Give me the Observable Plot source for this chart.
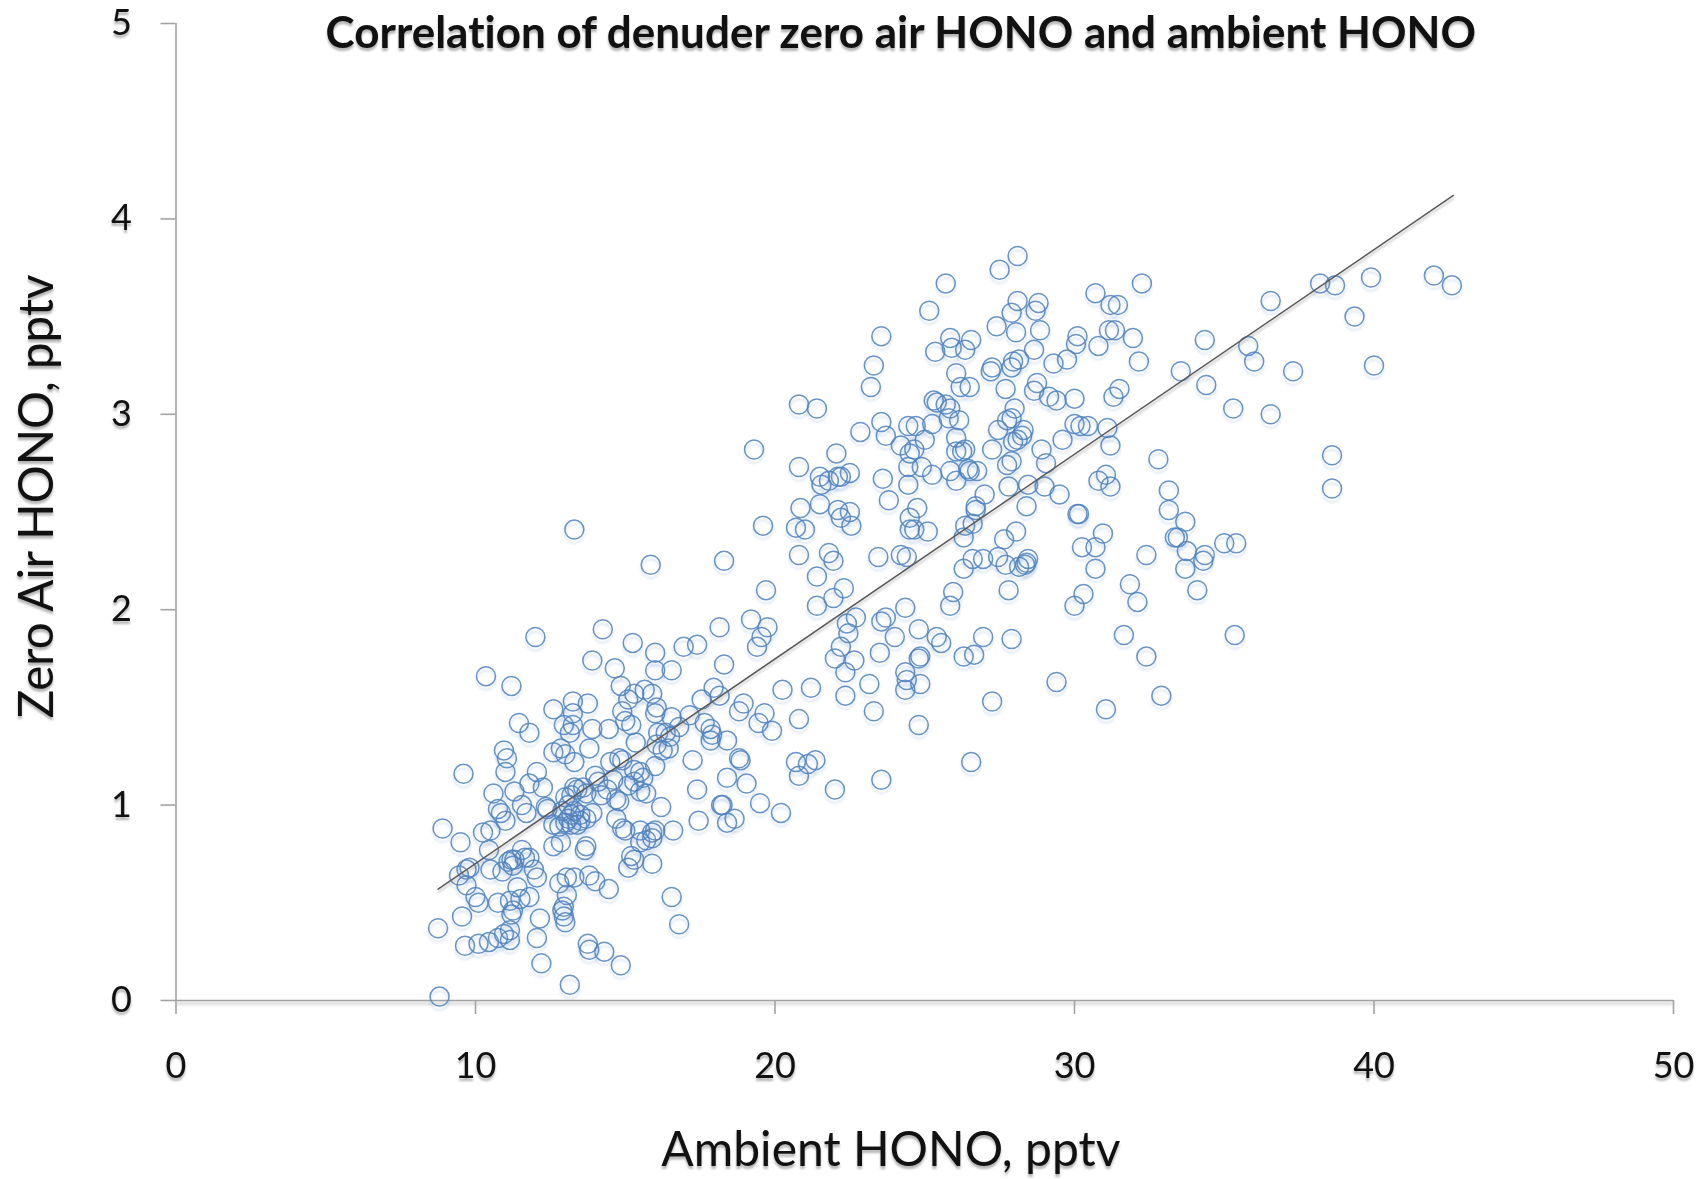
<!DOCTYPE html>
<html><head><meta charset="utf-8">
<script src="https://cdn.jsdelivr.net/npm/d3@7"></script>
<script src="https://cdn.jsdelivr.net/npm/@observablehq/plot@0.6"></script>
<style>html,body{margin:0;padding:0;background:#fff}svg{display:block}svg text{font-variant-ligatures:none}</style>
</head><body><div id="chart"></div>
<script>
const chartTitle = "Correlation of denuder zero air HONO and ambient HONO";
const xTitle = "Ambient HONO, pptv";
const yTitle = "Zero Air HONO, pptv";
const xTicks = [0,10,20,30,40,50];
const yTicks = [0,1,2,3,4,5];
const trendX = [8.75,42.65];
const trendY = [0.57,4.12];
const pairs = [
42.6,3.66,42.0,3.71,39.9,3.70,40.0,3.25,39.35,3.50,38.7,3.66,38.2,3.67,38.6,2.79,38.6,2.62,37.3,3.22,36.55,3.58,36.55,3.0,36.0,3.27,35.8,3.35,35.3,3.03,35.4,2.34,35.0,2.34,35.35,1.87,34.35,3.38,34.4,3.15,33.55,3.22,34.35,2.28,34.3,2.25,34.1,2.10,33.7,2.21,33.75,2.30,33.7,2.45,33.35,2.37,33.45,2.37,33.15,2.51,33.15,2.61,32.8,2.77,32.4,2.28,31.85,2.13,32.1,2.04,31.65,1.87,32.4,1.76,32.9,1.56,31.05,1.49,
32.25,3.67,30.7,3.62,31.2,3.56,31.45,3.56,31.15,3.43,31.35,3.43,31.95,3.39,30.8,3.35,30.1,3.40,30.05,3.36,32.15,3.27,31.5,3.13,31.3,3.09,30.0,3.08,31.1,2.93,31.2,2.84,30.45,2.94,30.2,2.94,30.0,2.95,29.6,2.87,31.05,2.69,30.8,2.66,31.2,2.63,30.1,2.49,30.15,2.49,30.95,2.39,30.25,2.32,30.7,2.32,30.7,2.21,30.3,2.08,30.0,2.02,29.4,1.63,29.5,2.59,29.0,2.63,29.05,2.75,28.9,2.82,28.85,3.43,28.8,3.57,28.7,3.53,28.65,3.33,29.75,3.28,29.3,3.26,28.75,3.16,28.65,3.12,29.15,3.09,29.4,3.07,
28.1,3.81,27.5,3.74,28.1,3.58,27.9,3.52,27.4,3.45,28.05,3.42,28.15,3.28,27.95,3.27,27.9,3.24,27.25,3.24,27.2,3.22,27.7,3.13,28.0,3.03,27.9,2.98,27.75,2.97,27.45,2.92,28.3,2.92,28.25,2.89,28.1,2.87,27.95,2.86,27.25,2.82,27.9,2.76,27.75,2.74,27.8,2.63,28.45,2.64,28.4,2.53,28.05,2.40,27.65,2.36,27.0,2.59,26.75,2.71,26.5,2.71,26.7,2.53,26.7,2.51,26.6,2.44,26.35,2.43,26.3,2.37,26.95,2.26,26.6,2.26,27.45,2.27,26.3,2.21,27.7,2.23,28.15,2.22,28.35,2.23,28.45,2.26,28.4,2.24,27.8,2.10,25.95,2.09,25.85,2.02,26.95,1.86,27.9,1.85,25.4,1.86,25.55,1.83,26.65,1.77,26.3,1.76,27.25,1.53,26.55,1.22,
25.7,3.67,25.15,3.53,25.85,3.39,26.55,3.38,25.9,3.34,25.35,3.32,26.35,3.33,26.05,3.21,26.5,3.14,26.2,3.14,25.3,3.07,25.4,3.06,25.7,3.05,25.85,3.03,25.8,2.98,26.15,2.97,25.25,2.95,26.05,2.88,24.7,2.94,24.45,2.94,25.0,2.87,26.05,2.81,26.35,2.82,26.25,2.81,26.45,2.72,25.85,2.71,25.25,2.69,24.9,2.73,26.05,2.66,24.65,2.82,24.5,2.80,24.2,2.84,24.45,2.73,24.45,2.64,24.75,2.52,24.5,2.47,24.5,2.41,24.65,2.41,25.1,2.40,24.4,2.27,24.2,2.28,23.45,2.27,23.8,2.56,23.6,2.67,23.7,2.89,23.55,2.96,22.85,2.91,23.55,3.40,23.3,3.25,23.2,3.14,
20.8,3.05,21.4,3.03,19.3,2.82,20.8,2.73,22.05,2.80,21.5,2.68,21.55,2.64,21.5,2.54,21.8,2.66,22.1,2.68,22.2,2.68,22.5,2.70,22.1,2.51,22.2,2.47,22.5,2.50,22.55,2.43,20.85,2.52,21.0,2.41,20.7,2.42,19.6,2.43,20.8,2.28,21.8,2.29,21.95,2.25,18.3,2.25,15.85,2.23,13.3,2.41,21.4,2.17,22.3,2.11,21.95,2.06,21.4,2.02,19.7,2.10,19.2,1.95,19.75,1.91,19.55,1.86,19.4,1.81,18.15,1.91,18.3,1.72,17.4,1.82,16.95,1.81,
24.35,2.01,23.55,1.94,23.7,1.96,22.7,1.96,22.4,1.93,22.45,1.88,24.0,1.86,24.8,1.90,23.5,1.78,22.2,1.81,22.0,1.75,22.65,1.74,22.35,1.68,24.85,1.76,24.8,1.75,24.35,1.68,24.4,1.64,24.35,1.59,24.85,1.62,23.15,1.62,22.35,1.56,23.3,1.48,24.8,1.41,21.2,1.60,20.25,1.59,20.8,1.44,19.65,1.47,19.45,1.42,19.9,1.38,18.95,1.52,18.8,1.48,23.55,1.13,22.0,1.08,21.35,1.23,21.1,1.21,20.7,1.22,20.8,1.15,20.2,0.96,19.5,1.01,19.05,1.11,18.4,1.33,18.8,1.24,18.85,1.23,18.4,1.14,18.65,0.93,18.4,0.91,18.2,1.0,18.25,1.0,17.45,0.92,17.4,1.08,17.25,1.23,
17.15,1.46,17.95,1.60,17.55,1.54,18.15,1.56,17.65,1.42,17.85,1.39,17.9,1.36,17.85,1.33,16.0,1.78,16.55,1.69,16.0,1.69,15.65,1.59,15.9,1.57,16.05,1.50,16.0,1.47,15.25,1.83,14.25,1.90,13.9,1.74,14.65,1.70,14.85,1.61,15.1,1.54,15.3,1.57,14.9,1.48,15.0,1.43,15.2,1.41,16.55,1.45,16.35,1.37,16.05,1.31,16.45,1.29,16.25,1.28,16.8,1.40,16.1,1.37,
10.35,1.66,12.0,1.86,11.2,1.61,12.6,1.49,13.75,1.52,13.25,1.53,13.25,1.47,13.25,1.41,13.15,1.37,12.95,1.41,11.45,1.42,11.8,1.37,13.9,1.39,14.45,1.39,14.8,1.24,13.8,1.29,15.35,1.32,10.95,1.28,11.05,1.24,11.0,1.17,12.6,1.27,12.85,1.29,13.0,1.26,13.3,1.22,12.05,1.17,9.6,1.16,11.8,1.11,12.25,1.09,11.3,1.07,10.6,1.06,11.55,1.0,11.7,0.96,12.35,0.99,10.75,0.98,10.85,0.96,11.0,0.92,10.25,0.86,10.5,0.87,8.9,0.88,9.5,0.81,10.45,0.77,11.55,0.77,11.65,0.73,11.8,0.73,11.2,0.72,11.3,0.72,11.1,0.71,11.25,0.69,9.8,0.68,9.7,0.67,9.45,0.64,10.5,0.67,10.9,0.66,11.95,0.67,12.05,0.63,9.7,0.59,10.0,0.53,10.1,0.50,10.75,0.50,9.55,0.43,11.15,0.51,11.4,0.58,11.5,0.52,11.8,0.53,11.25,0.46,11.2,0.44,12.15,0.42,8.75,0.37,9.65,0.28,10.1,0.29,10.45,0.30,10.75,0.32,10.95,0.34,11.15,0.36,11.15,0.31,12.05,0.32,12.2,0.19,13.15,0.08,8.8,0.02,14.85,0.18,13.75,0.29,13.8,0.26,14.3,0.25,16.55,0.53,16.8,0.39,12.95,0.48,12.9,0.46,12.95,0.43,13.0,0.40,13.05,0.54,13.05,0.63,13.3,0.63,12.8,0.60,13.8,0.64,14.0,0.61,14.45,0.57,13.65,0.77,13.7,0.79,12.85,0.81,12.6,0.79,
13.0,1.04,13.2,1.05,13.3,1.09,13.4,1.08,13.6,1.09,13.7,1.06,13.1,1.0,12.9,0.97,13.3,0.97,13.5,0.95,13.7,0.93,13.9,0.96,13.1,0.93,13.2,0.90,13.4,0.90,13.5,0.92,13.2,0.95,12.6,0.90,12.8,0.89,13.0,0.91,12.4,0.98,14.1,1.12,14.0,1.15,14.4,1.08,14.2,1.05,14.6,1.13,14.7,1.03,14.8,1.02,14.5,1.22,14.9,1.23,15.1,1.1,15.3,1.12,15.3,1.18,15.5,1.17,15.6,1.14,15.5,1.07,15.7,1.06,16.2,0.99,16.0,1.2,16.5,1.35,14.7,0.93,15.0,0.87,15.5,0.87,15.9,0.86,16.0,0.87,16.6,0.87,15.7,0.82,15.9,0.83,15.5,0.81,15.2,0.74,15.3,0.72,15.1,0.68,15.9,0.70,14.9,0.88
];
const ambientHono = pairs.filter((_, i) => i % 2 === 0);
const zeroAirHono = pairs.filter((_, i) => i % 2 === 1);
const points = ambientHono.map((x, i) => ({x, y: zeroAirHono[i]}));
const trend = trendX.map((x, i) => ({x, y: trendY[i]}));

const font = "Lato, 'Open Sans', sans-serif";
const textMarks = (dy, fill, extra) => [
  Plot.axisX(xTicks, {tickSize: 0, tickPadding: 52, fontSize: 36, tickFormat: "d", label: null, fill, dy, ...extra}),
  Plot.axisY(yTicks, {tickSize: 0, tickPadding: 44, fontSize: 36, tickFormat: "d", label: null, fill, dy, ...extra}),
  Plot.text([chartTitle], {x: 24.2, y: 5, dy: dy + 10, fontSize: 44, fontWeight: 700, fill, ...extra}),
  Plot.text([xTitle], {x: 23.87, y: 0, dy: dy + 150, fontSize: 48, fill, ...extra}),
  Plot.text([yTitle], {x: 0, y: 2.58, dx: -138, dy, rotate: -90, fontSize: 47.6, fill, ...extra})
];

const chart = Plot.plot({
  width: 1701, height: 1179,
  marginLeft: 175.5, marginRight: 28, marginTop: 23, marginBottom: 179,
  style: {fontFamily: font, background: "#fff", overflow: "visible"},
  x: {domain: [0, 50], axis: null},
  y: {domain: [0, 5], axis: null},
  marks: [
    Plot.ruleY([0], {stroke: "#c8c8c8", strokeWidth: 2, dy: 3, imageFilter: "blur(1.5px)"}),
    ...textMarks(3, "#b5b5b5", {imageFilter: "blur(1.2px)"}),
    Plot.axisX(xTicks, {tickSize: 14, tickFormat: () => "", stroke: "#a3a3a3", strokeWidth: 1.6, label: null}),
    Plot.axisY(yTicks, {tickSize: 15, tickFormat: () => "", stroke: "#a3a3a3", strokeWidth: 1.6, label: null}),
    Plot.ruleX([0], {stroke: "#a3a3a3", strokeWidth: 1.6}),
    Plot.ruleY([0], {stroke: "#a3a3a3", strokeWidth: 1.6}),
    Plot.dot(points, {x: "x", y: "y", r: 9.5, stroke: "#4f81bd", strokeOpacity: 0.2, strokeWidth: 1.8, dy: 4, imageFilter: "blur(1.2px)"}),
    Plot.line(trend, {x: "x", y: "y", stroke: "#c4c4c4", strokeWidth: 1.6, dy: 3, imageFilter: "blur(1px)"}),
    Plot.dot(points, {x: "x", y: "y", r: 9.5, stroke: "#4f81bd", strokeWidth: 1.5, strokeOpacity: 0.85, imageFilter: "blur(0.5px)"}),
    Plot.line(trend, {x: "x", y: "y", stroke: "#5a5a5a", strokeWidth: 1.5, imageFilter: "blur(0.3px)"}),
    ...textMarks(0, "#111", {imageFilter: "blur(0.4px)"})
  ]
});
document.getElementById("chart").append(chart);
</script></body></html>
